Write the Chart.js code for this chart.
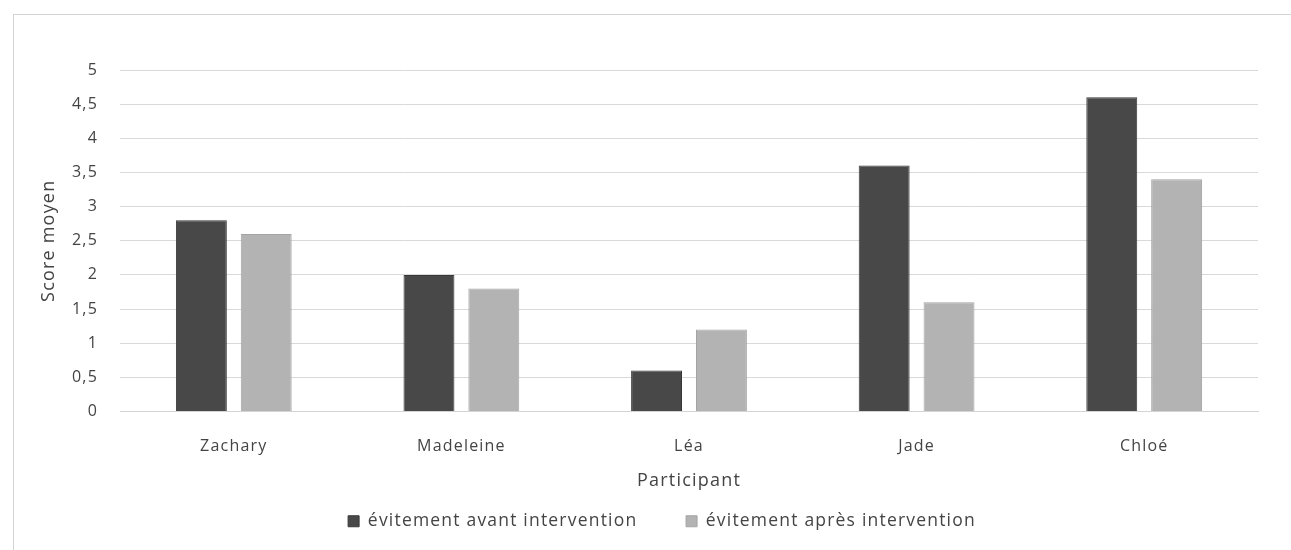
<!DOCTYPE html>
<html lang="fr">
<head>
<meta charset="utf-8">
<script src="https://cdn.jsdelivr.net/npm/chart.js@4.4.1/dist/chart.umd.min.js"></script>
<style>
  html, body { margin: 0; padding: 0; background: #ffffff; }
  #frame {
    position: absolute; left: 13px; top: 14px; width: 1290px; height: 540px;
    border-top: 1px solid #d4d4d4; border-left: 1px solid #d4d4d4;
    pointer-events: none;
  }
  #wrap { position: absolute; left: 0; top: 0; width: 1291px; height: 550px; }
</style>
</head>
<body>
<div id="wrap"><canvas id="chart" width="1291" height="550"></canvas></div>
<div id="frame"></div>
<script>
// Participants and mean avoidance scores, before and after the intervention
const participants = ['Zachary', 'Madeleine', 'Léa', 'Jade', 'Chloé'];
const avantIntervention = [2.8, 2.0, 0.6, 3.6, 4.6];
const apresIntervention = [2.6, 1.8, 1.2, 1.6, 3.4];
const seriesNames = ['évitement avant intervention', 'évitement après intervention'];
const yTicks = [0, 0.5, 1, 1.5, 2, 2.5, 3, 3.5, 4, 4.5, 5];

const textColor = '#444444';
const fontFamily = "'Open Sans', 'Liberation Sans', sans-serif";
const LETTER_SPACING = '1.2px';

// Wider tracking for all canvas text (set before measuring and before drawing)
const trackingPlugin = {
  id: 'tracking',
  beforeUpdate(chart) { chart.ctx.letterSpacing = LETTER_SPACING; },
  beforeDraw(chart) { chart.ctx.letterSpacing = LETTER_SPACING; }
};

// Nudge the legend row so it sits slightly right of centre
const legendOffsetPlugin = {
  id: 'legendOffset',
  afterLayout(chart) {
    const lg = chart.legend;
    if (lg) { lg.left += 26; lg.right += 26; }
  }
};

new Chart(document.getElementById('chart'), {
  type: 'bar',
  data: {
    labels: participants,
    datasets: [
      {
        label: seriesNames[0],
        data: avantIntervention,
        backgroundColor: '#484848',
        borderColor: '#383838',
        borderWidth: 1,
        categoryPercentage: 0.57,
        barPercentage: 0.785
      },
      {
        label: seriesNames[1],
        data: apresIntervention,
        backgroundColor: '#b3b3b3',
        borderColor: '#a4a4a4',
        borderWidth: 1,
        categoryPercentage: 0.57,
        barPercentage: 0.785
      }
    ]
  },
  plugins: [trackingPlugin, legendOffsetPlugin],
  options: {
    responsive: false,
    animation: false,
    devicePixelRatio: 1,
    layout: { padding: { left: 14, right: 33, top: 70, bottom: 10 } },
    plugins: {
      tooltip: { enabled: false },
      legend: {
        position: 'bottom',
        labels: {
          color: textColor,
          font: { family: fontFamily, size: 17.5 },
          boxWidth: 11,
          boxHeight: 11,
          padding: 20,
          generateLabels: (chart) => {
            const items = Chart.defaults.plugins.legend.labels.generateLabels(chart);
            items.forEach((it, i) => {
              if (i < items.length - 1) it.text = it.text + '\u00a0\u00a0\u00a0\u00a0\u00a0';
            });
            return items;
          }
        }
      }
    },
    scales: {
      x: {
        grid: { display: false },
        border: { display: true, color: '#d4d4d4' },
        ticks: { color: textColor, font: { family: fontFamily, size: 16 }, padding: 17 },
        title: {
          display: true,
          text: 'Participant',
          color: textColor,
          font: { family: fontFamily, size: 18 },
          padding: { top: 8, bottom: 1 }
        },
        afterFit: (scale) => { scale.height = 81; }
      },
      y: {
        min: 0,
        max: 5,
        afterBuildTicks: (scale) => { scale.ticks = yTicks.map(v => ({ value: v })); },
        grid: { color: '#d9d9d9', lineWidth: 1, drawTicks: false },
        border: { display: false },
        ticks: {
          color: textColor,
          font: { family: fontFamily, size: 16 },
          padding: 22,
          callback: (v) => String(v).replace('.', ',')
        },
        title: {
          display: true,
          text: 'Score moyen',
          color: textColor,
          font: { family: fontFamily, size: 18 },
          padding: { top: 24, bottom: 0 }
        },
        afterFit: (scale) => { scale.width = 106; }
      }
    }
  }
});
</script>
</body>
</html>
